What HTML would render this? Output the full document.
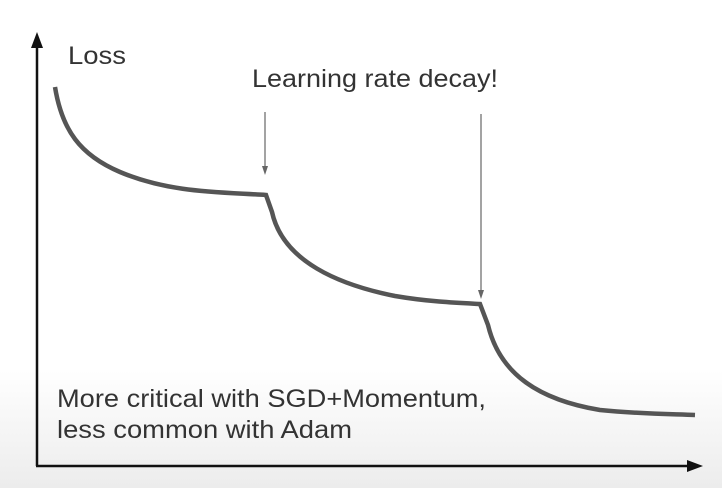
<!DOCTYPE html>
<html><head><style>
html,body{margin:0;padding:0}
body{width:722px;height:488px;overflow:hidden;background:linear-gradient(#fff 0,#fff 370px,#ececec 488px);}
svg{position:absolute;left:0;top:0}
text{font-family:"Liberation Sans",sans-serif;fill:#333;font-size:25px}
</style></head><body>
<svg width="722" height="488" viewBox="0 0 722 488">
<line x1="37" y1="466" x2="37" y2="44" stroke="#111" stroke-width="2.5"/>
<polygon points="37,32 31,48 43,48" fill="#111"/>
<line x1="36" y1="466" x2="690" y2="466" stroke="#111" stroke-width="2.5"/>
<polygon points="703,466 687,460 687,472" fill="#111"/>
<path d="M55,87 C62,130 80,155 120,172 C170,193 220,192 266,195 L272,212 C283,262 340,285 395,296 C430,302 460,303 480,304 L488,325 C500,375 540,400 600,410 C640,414 670,414 695,415" fill="none" stroke="#555" stroke-width="4.5"/>
<line x1="265" y1="112" x2="265" y2="170" stroke="#666" stroke-width="1.2"/>
<polygon points="265,175 262,166 268,166" fill="#666"/>
<line x1="481" y1="114" x2="481" y2="294" stroke="#666" stroke-width="1.2"/>
<polygon points="481,299 478,290 484,290" fill="#666"/>
<text x="68" y="64" textLength="58" lengthAdjust="spacingAndGlyphs">Loss</text>
<text x="252" y="87" font-size="26" textLength="246" lengthAdjust="spacingAndGlyphs">Learning rate decay!</text>
<text x="57" y="407" textLength="429" lengthAdjust="spacingAndGlyphs">More critical with SGD+Momentum,</text>
<text x="57" y="438" textLength="295" lengthAdjust="spacingAndGlyphs">less common with Adam</text>
</svg>
</body></html>
